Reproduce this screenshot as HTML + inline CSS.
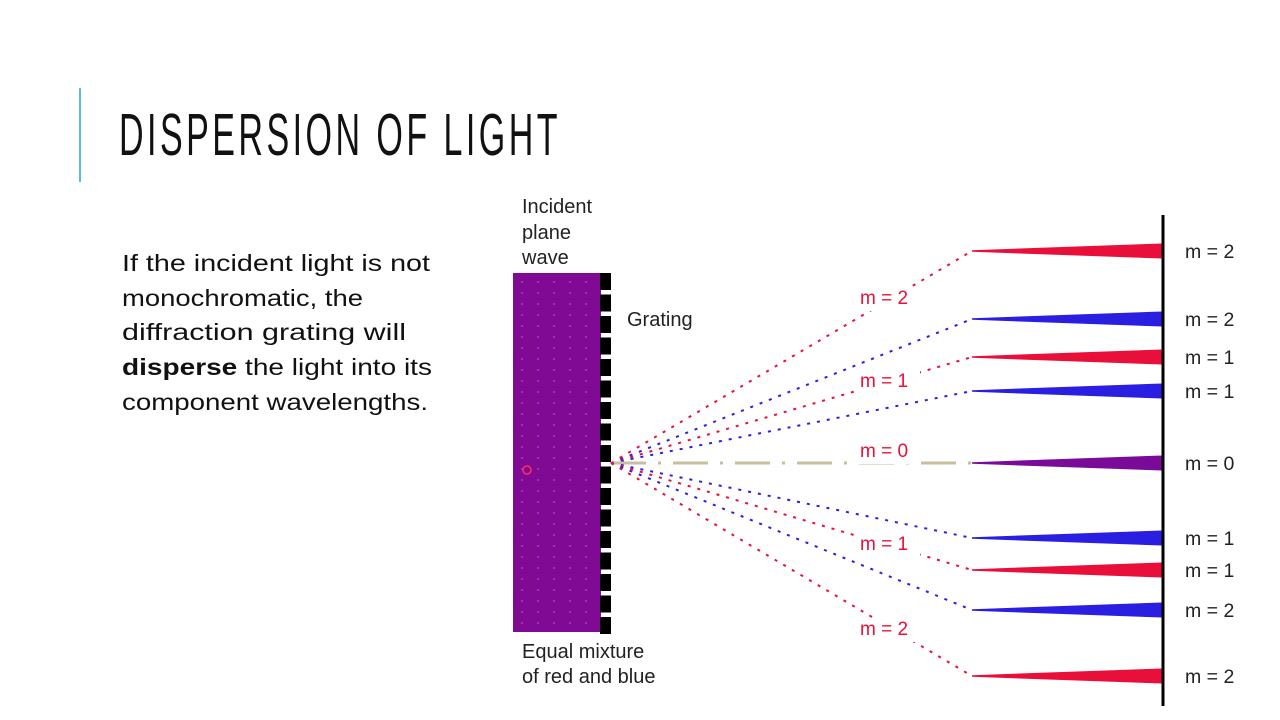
<!DOCTYPE html>
<html><head><meta charset="utf-8">
<style>
html,body{margin:0;padding:0;background:#fff;}
svg{display:block;}
</style></head>
<body>
<svg id="s" width="1280" height="720" viewBox="0 0 1280 720" xmlns="http://www.w3.org/2000/svg">
  <rect x="0" y="0" width="1280" height="720" fill="#fff"/>
  <rect x="79" y="88" width="2" height="94" fill="#5bc0de"/>
  <text x="119" y="155" font-family="'Liberation Sans Narrow','Liberation Sans',sans-serif" font-size="59" letter-spacing="6" fill="#111" textLength="442" lengthAdjust="spacingAndGlyphs">DISPERSION OF LIGHT</text>
  <g font-family="'Liberation Sans',sans-serif" font-size="23" fill="#111">
    <text x="122" y="271" textLength="308" lengthAdjust="spacingAndGlyphs">If the incident light is not</text>
    <text x="122" y="306" textLength="241" lengthAdjust="spacingAndGlyphs">monochromatic, the</text>
    <text x="122" y="340" textLength="284" lengthAdjust="spacingAndGlyphs">diffraction grating will</text>
    <text x="122" y="375" textLength="310" lengthAdjust="spacingAndGlyphs"><tspan font-weight="bold">disperse</tspan> the light into its</text>
    <text x="122" y="410" textLength="306" lengthAdjust="spacingAndGlyphs">component wavelengths.</text>
  </g>
  <g font-family="'Liberation Sans',sans-serif" font-size="20" fill="#222">
    <text x="522" y="213">Incident</text>
    <text x="522" y="239">plane</text>
    <text x="522" y="264">wave</text>
    <text x="627" y="326">Grating</text>
    <text x="522" y="658">Equal mixture</text>
    <text x="522" y="683">of red and blue</text>
  </g>
  <rect x="513" y="273" width="88" height="359" fill="#800a94"/>
  <g id="dots" fill="#a25aa8"></g>
  <circle cx="527" cy="470" r="4" fill="none" stroke="#ff3060" stroke-width="1.5"/>
  <g id="grating"></g>
  <g id="rays"></g>
  <line x1="1163" y1="215" x2="1163" y2="706" stroke="#000" stroke-width="3"/>
</svg>
<script>
const orderY = [251, 319, 357, 391, 463, 538, 570, 610, 676];
const orderColor = ['red','blue','red','blue','purple','blue','red','blue','red'];
const orderLabel = ['m = 2','m = 2','m = 1','m = 1','m = 0','m = 1','m = 1','m = 2','m = 2'];
const midLabels = ['m = 2','m = 1','m = 0','m = 1','m = 2'];
const midLabelY = [304, 387, 457, 550, 635];

const NS='http://www.w3.org/2000/svg';
function mk(t,a,p){const e=document.createElementNS(NS,t);for(const k in a)e.setAttribute(k,a[k]);p.appendChild(e);return e;}
const dots=document.getElementById('dots');
for(let y=282;y<632;y+=11)for(let x=522;x<600;x+=16)mk('circle',{cx:x,cy:y,r:0.9},dots);
const gr=document.getElementById('grating');
for(let y=273;y<632;y+=21.5)mk('rect',{x:600,y:y,width:11,height:17,fill:'#000'},gr);
const cols={red:'#e8103a',blue:'#2a1ee0',purple:'#7a0a98'};
const rays=document.getElementById('rays');
const sx=611, sy=463, ex=972, scr=1162;
orderY.forEach((y,i)=>{
  const c=cols[orderColor[i]];
  if(orderColor[i]==='purple'){
    const l=mk('line',{x1:sx,y1:sy,x2:ex,y2:y,stroke:'#c8bea0','stroke-width':3,'stroke-dasharray':'35 12 3 12'},rays);
    
    
  } else {
    const l=mk('line',{x1:sx,y1:sy,x2:ex,y2:y,stroke:c,'stroke-width':2,'stroke-dasharray':'3 7'},rays);
    
    
  }
  const w=mk('polygon',{points:`${ex},${y-0.8} ${ex},${y+0.8} ${scr},${y+7.5} ${scr},${y-7.5}`,fill:c},rays);
  
  
  const t=mk('text',{x:1185,y:y+7,'font-family':"'Liberation Sans',sans-serif",'font-size':19.5,fill:'#222'},rays);
  t.textContent=orderLabel[i];
  
  
});
midLabels.forEach((s,i)=>{
  mk('rect',{x:854,y:midLabelY[i]-17,width:66,height:24,fill:'#fff'},rays);
  const t=mk('text',{x:860,y:midLabelY[i],'font-family':"'Liberation Sans',sans-serif",'font-size':19,fill:'#e8103a'},rays);
  t.textContent=s;
  
  
});
</script>
</body></html>
